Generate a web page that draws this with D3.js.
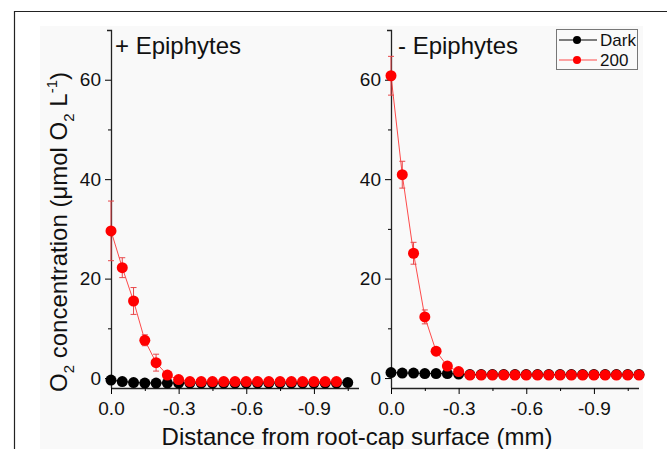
<!DOCTYPE html>
<html>
<head>
<meta charset="utf-8">
<script src="https://cdn.jsdelivr.net/npm/d3@7"></script>
<style>
  body { margin: 0; background: #fff; }
  svg { display: block; font-family: Arial, "Liberation Sans", sans-serif; }
</style>
</head>
<body>
<div id="chart-container" style="width:667px;height:449px"></div>
<script>
// distances (mm), 0.05 mm steps
var distEpi = [0, -0.05, -0.1, -0.15, -0.2, -0.25, -0.3, -0.35, -0.4, -0.45, -0.5, -0.55, -0.6, -0.65, -0.7, -0.75, -0.8, -0.85, -0.9, -0.95, -1.0, -1.05];
var distNoEpi = [0, -0.05, -0.1, -0.15, -0.2, -0.25, -0.3, -0.35, -0.4, -0.45, -0.5, -0.55, -0.6, -0.65, -0.7, -0.75, -0.8, -0.85, -0.9, -0.95, -1.0, -1.05, -1.1];

// + Epiphytes
var epiDark = [-0.4, -0.7, -0.9, -1.0, -1.0, -1.0, -1.0, -1.0, -1.0, -1.0, -1.0, -1.0, -1.0, -1.0, -1.0, -1.0, -1.0, -1.0, -1.0, -1.0, -1.0, -0.9];
var epiLight = [29.6, 22.2, 15.5, 7.6, 3.1, 0.6, -0.3, -0.7, -0.7, -0.7, -0.7, -0.7, -0.7, -0.7, -0.7, -0.7, -0.7, -0.7, -0.7, -0.7, -0.7];
var epiLightErr = [6.0, 2.0, 2.7, 1.1, 1.7, 0.4, 0, 0, 0, 0, 0, 0, 0, 0, 0, 0, 0, 0, 0, 0, 0];

// - Epiphytes
var noDark = [1.1, 1.0, 1.0, 0.9, 0.9, 0.9, 0.8, 0.7, 0.7, 0.7, 0.7, 0.7, 0.7, 0.7, 0.7, 0.7, 0.7, 0.7, 0.7, 0.7, 0.7, 0.7, 0.7];
var noLight = [60.8, 40.9, 25.1, 12.3, 5.4, 2.4, 1.3, 0.6, 0.6, 0.6, 0.6, 0.6, 0.6, 0.6, 0.6, 0.6, 0.6, 0.6, 0.6, 0.6, 0.6, 0.6, 0.6];
var noLightErr = [3.9, 2.7, 2.2, 1.4, 0.5, 0.3, 0, 0, 0, 0, 0, 0, 0, 0, 0, 0, 0, 0, 0, 0, 0, 0, 0];

var xTicks = [0, -0.3, -0.6, -0.9];
var xMinor = [-0.15, -0.45, -0.75, -1.05];
var yTicks = [0, 20, 40, 60];
var yMinor = [10, 30, 50];
var seriesNames = ["Dark", "200"];
var seriesColors = ["#000000", "#ff0000"];
var panelTitles = ["+ Epiphytes", "- Epiphytes"];

var width = 667, height = 449;
var svg = d3.select("#chart-container").append("svg")
    .attr("width", width)
    .attr("height", height);

// frame + grey plot page
svg.append("rect").attr("x", 40).attr("y", 26).attr("width", 603).attr("height", 430).attr("fill", "#f9f9f9");
svg.append("path").attr("d", "M14.5," + height + "V11.5H" + width)
    .attr("fill", "none").attr("stroke", "#222").attr("stroke-width", 1.2);

var yScale = d3.scaleLinear().domain([-2, 70]).range([388, 30]);

var panels = [
    { left: 111, dist: distEpi, dark: epiDark, light: epiLight, err: epiLightErr, title: panelTitles[0], tx: 4 },
    { left: 391, dist: distNoEpi, dark: noDark, light: noLight, err: noLightErr, title: panelTitles[1], tx: 7 }
];

panels.forEach(function (p) {
    var xScale = d3.scaleLinear().domain([0, -1.1]).range([p.left, p.left + 248]);
    var g = svg.append("g");

    // y axis
    var yAxis = d3.axisLeft(yScale).tickValues(yTicks).tickSize(6).tickPadding(4).tickFormat(d3.format("d"));
    var gY = g.append("g").attr("transform", "translate(" + p.left + ",0)").call(yAxis);
    gY.select(".domain").attr("d", "M-4,30.5H0.5V388");
    gY.selectAll(".tick text").style("font-size", "19px").attr("fill", "#111");
    g.append("g").attr("transform", "translate(" + p.left + ",0)")
        .call(d3.axisLeft(yScale).tickValues(yMinor).tickSize(3).tickFormat(""))
        .select(".domain").remove();

    // x axis
    var xAxis = d3.axisBottom(xScale).tickValues(xTicks).tickSize(6).tickPadding(8).tickFormat(d3.format(".1f"));
    var gX = g.append("g").attr("transform", "translate(0,388)").call(xAxis);
    gX.select(".domain").attr("d", "M" + p.left + ",0.5H" + (p.left + 248));
    gX.selectAll(".tick text").style("font-size", "19px").attr("fill", "#111")
        .text(function (d) { return d === 0 ? "0.0" : d3.format(".1f")(d).replace("\u2212", "-"); });
    g.append("g").attr("transform", "translate(0,388)")
        .call(d3.axisBottom(xScale).tickValues(xMinor).tickSize(3).tickFormat(""))
        .select(".domain").remove();
    g.selectAll(".domain").attr("stroke", "#222").attr("stroke-width", 1.3);

    // series: dark first, light on top
    [{ v: p.dark, c: seriesColors[0], e: null }, { v: p.light, c: seriesColors[1], e: p.err }].forEach(function (s) {
        var pts = s.v.map(function (v, i) { return { x: p.dist[i], y: v, e: s.e ? s.e[i] : 0 }; });
        g.append("path").datum(pts)
            .attr("fill", "none").attr("stroke", s.c).attr("stroke-width", 1).attr("opacity", s.e ? 0.7 : 1)
            .attr("d", d3.line().x(function (d) { return xScale(d.x); }).y(function (d) { return yScale(d.y); }));
        if (s.e) {
            var eb = g.append("g").attr("stroke", "#e8474a").attr("stroke-width", 1);
            pts.filter(function (d) { return d.e > 0.8; }).forEach(function (d) {
                var cx = xScale(d.x);
                eb.append("line").attr("x1", cx).attr("x2", cx).attr("y1", yScale(d.y + d.e)).attr("y2", yScale(d.y - d.e));
                eb.append("line").attr("x1", cx - 3).attr("x2", cx + 3).attr("y1", yScale(d.y + d.e)).attr("y2", yScale(d.y + d.e));
                eb.append("line").attr("x1", cx - 3).attr("x2", cx + 3).attr("y1", yScale(d.y - d.e)).attr("y2", yScale(d.y - d.e));
            });
        }
        g.selectAll(null).data(pts).enter().append("circle")
            .attr("cx", function (d) { return xScale(d.x); })
            .attr("cy", function (d) { return yScale(d.y); })
            .attr("r", 5.5)
            .attr("fill", s.c);
    });

    g.append("text").attr("x", p.left + p.tx).attr("y", 54)
        .style("font-size", "24px").attr("fill", "#111").text(p.title);
});

// axis titles
svg.append("text").attr("x", 357).attr("y", 445).attr("text-anchor", "middle")
    .style("font-size", "24px").attr("fill", "#111").text("Distance from root-cap surface (mm)");

var yt = svg.append("text").attr("transform", "translate(67,232) rotate(-90)")
    .attr("text-anchor", "middle").style("font-size", "24px").attr("fill", "#111");
yt.append("tspan").text("O");
yt.append("tspan").attr("dy", 7).style("font-size", "15px").text("2");
yt.append("tspan").attr("dy", -7).text(" concentration (\u03bcmol O");
yt.append("tspan").attr("dy", 7).style("font-size", "15px").text("2");
yt.append("tspan").attr("dy", -7).text(" L");
yt.append("tspan").attr("dy", -10).style("font-size", "15px").text("-1");
yt.append("tspan").attr("dy", 10).text(")");

// legend
var lg = svg.append("g").attr("transform", "translate(556,29)");
lg.append("rect").attr("x", 0.5).attr("y", 0.5).attr("width", 81).attr("height", 40)
    .attr("fill", "#fafafa").attr("stroke", "#777");
seriesNames.forEach(function (n, i) {
    var yy = 11 + i * 20;
    lg.append("line").attr("x1", 3).attr("x2", 41).attr("y1", yy).attr("y2", yy)
        .attr("stroke", seriesColors[i]).attr("stroke-width", 1).attr("opacity", i ? 0.7 : 1);
    lg.append("circle").attr("cx", 21).attr("cy", yy).attr("r", 4).attr("fill", seriesColors[i]);
    lg.append("text").attr("x", 44).attr("y", yy + 6).style("font-size", "17px").attr("fill", "#111").text(n);
});
</script>
</body>
</html>
